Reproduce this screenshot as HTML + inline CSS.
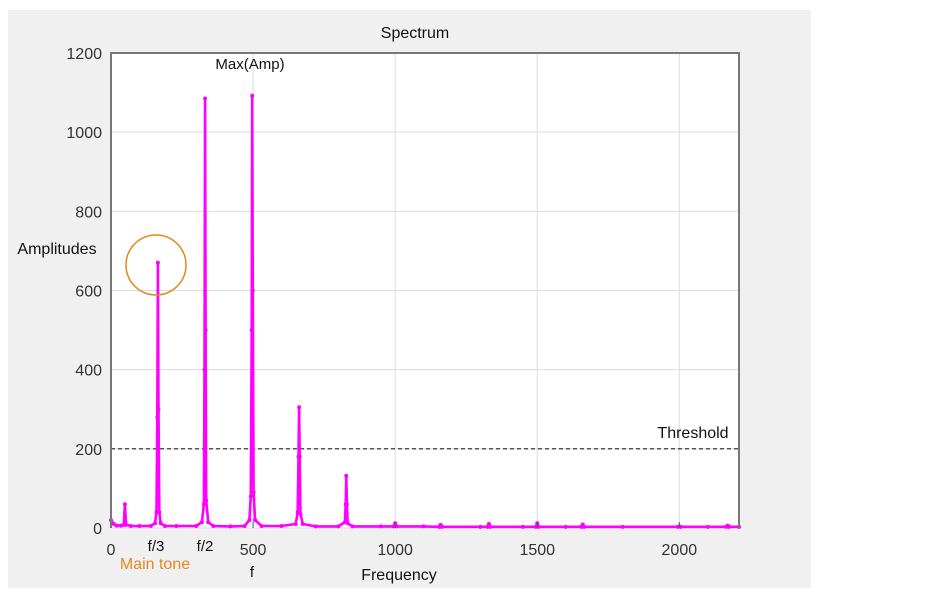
<!DOCTYPE html>
<html><head><meta charset="utf-8"><style>
html,body{margin:0;padding:0;background:#fff;width:936px;height:610px;overflow:hidden}
svg{display:block;font-family:"Liberation Sans",sans-serif}
</style></head><body>
<svg id="chart" width="936" height="610">
<rect x="8" y="10" width="803" height="578" fill="#f0f0f0"/>
<rect x="111" y="53" width="628" height="475" fill="#fff"/>
<g id="grid"></g>
<g id="series"></g>
<g id="axes"></g>
<text x="415" y="38" font-size="16" text-anchor="middle" fill="#111">Spectrum</text>
<text x="250" y="69" font-size="15" text-anchor="middle" fill="#111">Max(Amp)</text>
<text x="57" y="254" font-size="16" text-anchor="middle" fill="#111">Amplitudes</text>
<text x="399" y="580" font-size="16" text-anchor="middle" fill="#111">Frequency</text>
<text x="693" y="438" font-size="16" text-anchor="middle" fill="#111">Threshold</text>
<text x="156" y="551" font-size="15" text-anchor="middle" fill="#111">f/3</text>
<text x="205" y="551" font-size="15" text-anchor="middle" fill="#111">f/2</text>
<text x="252" y="577" font-size="15" text-anchor="middle" fill="#111">f</text>
<text x="155" y="569" font-size="16" text-anchor="middle" fill="#e08a1e">Main tone</text>
<circle cx="156" cy="265" r="30" fill="none" stroke="#e08a1e" stroke-width="1.5"/>
</svg>
<script>
const xTicks=[0,500,1000,1500,2000];
const xTickLabels=["0","500","1000","1500","2000"];
const yTicks=[0,200,400,600,800,1000,1200];
const yTickLabels=["0","200","400","600","800","1000","1200"];
const threshold=200;
const freqs=[0,10,20,35,45,49,53,70,100,140,155,160,163,165,167,170,175,190,230,300,320,327,329,331,333,335,342,360,420,470,487,492,495,497,499,502,507,530,600,650,657,660,662,664,667,675,720,800,823,826,828,830,833,850,950,995,1000,1005,1100,1155,1160,1165,1300,1325,1330,1335,1450,1495,1500,1505,1600,1655,1660,1665,1800,1995,2000,2005,2100,2165,2170,2175,2210];
const amps=[20,10,6,6,8,60,8,5,5,5,12,40,280,670,300,40,12,5,5,5,15,60,400,1085,500,70,15,5,4,5,20,80,500,1092,600,90,20,5,5,10,40,180,305,180,35,10,4,4,15,60,132,60,12,4,4,4,12,4,4,3,8,3,3,3,10,3,3,3,12,3,3,3,9,3,3,3,4,3,3,3,6,3,3];
const X0=111,X1=739,Y0=528,Y1=53,XMAX=2210,YMAX=1200;
const sx=v=>X0+(v/XMAX)*(X1-X0), sy=v=>Y0-(v/YMAX)*(Y0-Y1);
const NS="http://www.w3.org/2000/svg";
function mk(t,a,p){const e=document.createElementNS(NS,t);for(const k in a)e.setAttribute(k,a[k]);p.appendChild(e);return e;}
const grid=document.getElementById('grid'),axes=document.getElementById('axes'),series=document.getElementById('series');
xTicks.forEach((t,i)=>{
 const g=mk('line',{x1:sx(t),x2:sx(t),y1:Y1,y2:Y0,stroke:'#dcdcdc','stroke-width':1},grid);
 
 
 const tk=mk('line',{x1:sx(t),x2:sx(t),y1:Y0,y2:Y0-6,stroke:'#555'},axes);
 
 
 const lb=mk('text',{x:sx(t),y:Y0+27,'font-size':16,'text-anchor':'middle',fill:'#333'},axes);
 lb.textContent=xTickLabels[i];
 
 
});
yTicks.forEach((t,i)=>{
 const g=mk('line',{x1:X0,x2:X1,y1:sy(t),y2:sy(t),stroke:'#dcdcdc','stroke-width':1},grid);
 
 
 const lb=mk('text',{x:X0-9,y:sy(t)+6,'font-size':16,'text-anchor':'end',fill:'#333'},axes);
 lb.textContent=yTickLabels[i];
 
 
});
const th=mk('line',{x1:X0,x2:X1,y1:sy(threshold),y2:sy(threshold),stroke:'#222','stroke-dasharray':'4,3','stroke-width':1.2},series);


const pts=freqs.map((f,i)=>sx(f).toFixed(1)+','+sy(amps[i]).toFixed(1)).join(' ');
const pl=mk('polyline',{points:pts,fill:'none',stroke:'#ff00ff','stroke-width':2.6,'stroke-linejoin':'round'},series);


freqs.forEach((f,i)=>{
 const c=mk('circle',{cx:sx(f),cy:sy(amps[i]),r:2,fill:'#ff00ff'},series);
 
 
});
const ax=mk('path',{d:`M${X0},${Y0}V${Y1}H${X1}V${Y0}`,fill:'none',stroke:'#777','stroke-width':2},axes);


</script>
</body></html>
